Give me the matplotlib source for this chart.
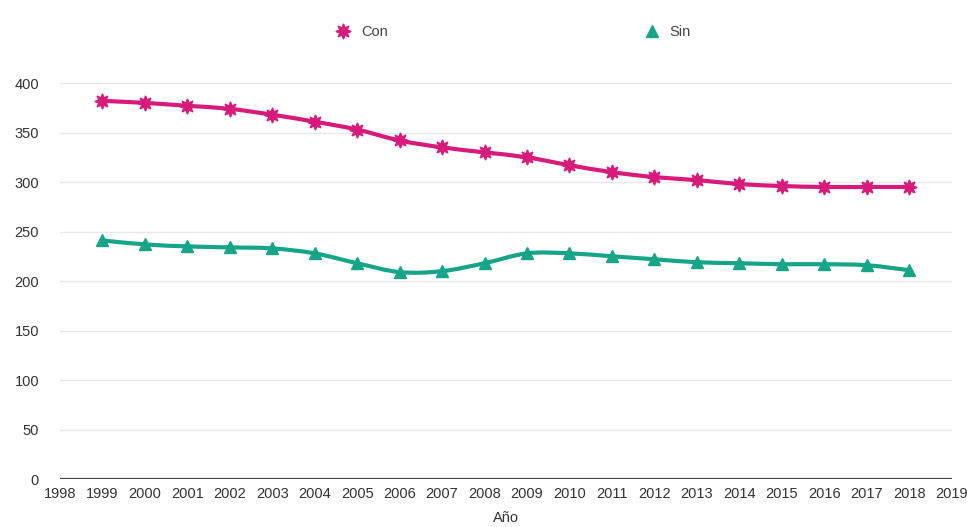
import matplotlib
matplotlib.use("Agg")
import matplotlib.pyplot as plt
from matplotlib.path import Path
from matplotlib.patches import PathPatch

# Data
years = list(range(1999, 2019))
con = [382, 380, 377, 374, 368, 361, 353, 342, 335, 330,
       325, 317, 310, 305, 302, 298, 296, 295, 295, 295]
sin = [241, 237, 235, 234, 233, 228, 218, 209, 210, 218,
       228, 228, 225, 222, 219, 218, 217, 217, 216, 211]
yticks = [0, 50, 100, 150, 200, 250, 300, 350, 400]
xticks = list(range(1998, 2020))

CON_COLOR = "#d81b7b"
SIN_COLOR = "#17a589"

plt.rcParams['font.family'] = ['Liberation Sans', 'DejaVu Sans']


def smooth_path(xs, ys):
    # Catmull-Rom style cubic Bezier through the data points
    pts = list(zip(xs, ys))
    verts = [pts[0]]
    codes = [Path.MOVETO]
    n = len(pts)
    for i in range(n - 1):
        p0 = pts[i - 1] if i > 0 else pts[i]
        p1 = pts[i]
        p2 = pts[i + 1]
        p3 = pts[i + 2] if i + 2 < n else pts[i + 1]
        c1 = (p1[0] + (p2[0] - p0[0]) / 6, p1[1] + (p2[1] - p0[1]) / 6)
        c2 = (p2[0] - (p3[0] - p1[0]) / 6, p2[1] - (p3[1] - p1[1]) / 6)
        verts += [c1, c2, p2]
        codes += [Path.CURVE4] * 3
    return Path(verts, codes)


fig = plt.figure(figsize=(9.67, 5.27), dpi=100)
ax = fig.add_axes([0.062, 0.091, 0.922, 0.7514])

for y in yticks[1:]:
    ax.axhline(y, color="#e8e8e8", lw=1, zorder=0)
ax.axhline(0, color="#444444", lw=1.6, zorder=1)

for vals, color in [(con, CON_COLOR), (sin, SIN_COLOR)]:
    ax.add_patch(PathPatch(smooth_path(years, vals), fill=False,
                           edgecolor=color, lw=3, zorder=2))

h1, = ax.plot(years, con, linestyle="none", marker=(8, 1, 0), markersize=11,
              color=CON_COLOR, markeredgecolor=CON_COLOR, zorder=3, label="Con")
h2, = ax.plot(years, sin, linestyle="none", marker="^", markersize=9,
              color=SIN_COLOR, markeredgecolor=SIN_COLOR, zorder=3, label="Sin")

ax.set_xlim(1998, 2019)
ax.set_ylim(0, 400)
ax.set_xticks(xticks)
ax.set_xticklabels([str(x) for x in xticks])
ax.set_yticks(yticks)
ax.tick_params(axis="both", length=0, labelsize=10.5, colors="#333333")
ax.tick_params(axis="y", pad=15)
ax.tick_params(axis="x", pad=6)
for s in ax.spines.values():
    s.set_visible(False)

ax.set_xlabel("Año", fontsize=10.5, color="#333333", labelpad=7)

fig.legend(handles=[h1, h2], loc="center", bbox_to_anchor=(0.53, 0.94),
           ncol=2, frameon=False, fontsize=10.5, columnspacing=17.5,
           handlelength=1.2, handletextpad=0.6, labelcolor="#444444")

fig.savefig("out.png", dpi=100)
